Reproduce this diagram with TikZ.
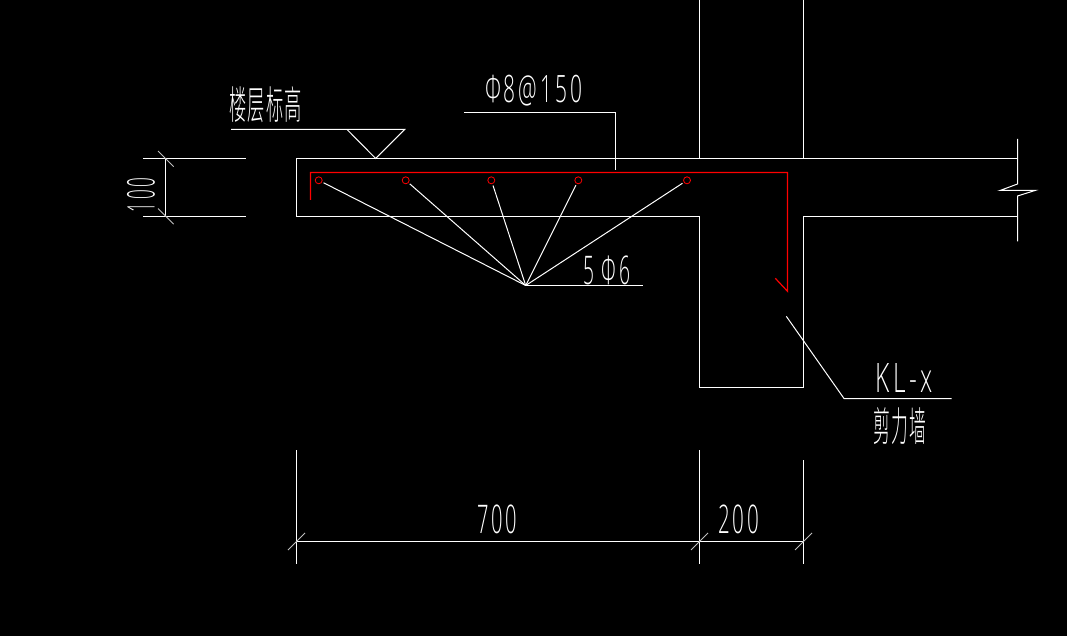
\documentclass[tikz,border=0pt]{standalone}
\usepackage{fontspec}
\setmainfont{Liberation Sans}
\newfontfamily\cadlat[LetterSpace=14]{Open Sans Light}
\newfontfamily\cadcjk[LetterSpace=8]{Noto Sans CJK SC Light}
\newcommand{\fitbox}[3]{\resizebox*{#1pt}{#2pt}{#3}}
\tikzset{
  outline/.style={draw=white,line width=1pt},
  thinline/.style={draw=white,line width=1pt},
  tick/.style={draw=white!75!black,line width=.8pt},
  rebar/.style={draw=red,line width=1.2pt},
  bar/.style={circle,draw=red,line width=.8pt,minimum size=7pt,inner sep=0pt},
  cad/.style={text=white,inner sep=0pt,font=\cadlat},
  cadc/.style={text=white,inner sep=0pt,font=\cadcjk},
}
\begin{document}
\begin{tikzpicture}[x=1pt,y=-1pt]
\fill[black] (0,0) rectangle (1067,636);
\useasboundingbox (0,0) rectangle (1067,636);
% concrete outline
\draw[outline] (699.5,0) -- (699.5,158.5);
\draw[outline] (803.5,0) -- (803.5,158.5);
\draw[outline] (1017.5,158.5) -- (296.5,158.5) -- (296.5,216.5) -- (699.5,216.5) -- (699.5,387.5) -- (803.5,387.5) -- (803.5,216.5) -- (1017.5,216.5);
% break line
\draw[outline] (1017.5,139) -- (1017.5,184) -- (1000,190.5) -- (1035,190.5) -- (1017.5,196) -- (1017.5,241.5);
% left dimension
\draw[outline] (143,158.5) -- (246,158.5);
\draw[outline] (143,216.5) -- (246,216.5);
\draw[outline] (165.5,158.5) -- (165.5,216.5);
\draw[tick] (158,151) -- (173.7,166.7);
\draw[tick] (158,208.5) -- (173.7,224.2);
\node[cad,rotate=90] (t100) at (141,195) {\fitbox{34}{28}{100}};
% elevation mark
\draw[outline] (231,129.5) -- (404.7,129.5) -- (375.7,158.5) -- (347,129.5);
\node[cadc] (tfloor) at (265.5,105) {\fitbox{73}{36}{楼层标高}};
% stirrup label
\node[cad] (tstir) at (533.5,90.5) {\fitbox{97}{31}{Φ8@150}};
\coordinate (stirA) at (464,112.5);
\coordinate (stirB) at (615.5,112.5);
\coordinate (stirC) at (615.5,170);
\draw[thinline] (stirA) -- (stirB) -- (stirC);
% rebar
\draw[rebar,line join=miter] (310.5,200) -- (310.5,172.5) -- (787.5,172.5) -- (787.5,291.3) -- (775.3,278.3);
\node[bar] (b1) at (318.7,180.3) {};
\node[bar] (b2) at (405.7,180.3) {};
\node[bar] (b3) at (491.3,180.3) {};
\node[bar] (b4) at (578.3,180.3) {};
\node[bar] (b5) at (687,180.3) {};
\coordinate (fan) at (525.7,285.5);
\coordinate (fanEnd) at (642.7,285.5);
\foreach \n in {b1,b2,b3,b4,b5}{\draw[thinline,shorten >=1.5pt] (fan) -- (\n);}
\draw[thinline] (fan) -- (fanEnd);
\node[cad] (tbars) at (606.5,270.5) {\fitbox{47}{29}{5 Φ6}};
% wall leader
\coordinate (wA) at (786.3,316.3);
\coordinate (wB) at (844,398.5);
\coordinate (wC) at (951.7,398.5);
\draw[thinline] (wA) -- (wB) -- (wC);
\node[cad] (tkl) at (904,377.5) {\fitbox{57}{29}{KL-x}};
\node[cadc] (twall) at (899.5,426.5) {\fitbox{53}{37}{剪力墙}};
% bottom dimension
\draw[outline] (296.5,450) -- (296.5,563.5);
\draw[outline] (699.5,450) -- (699.5,563.5);
\draw[outline] (803.5,460) -- (803.5,563.5);
\draw[outline] (296.5,541.5) -- (803.5,541.5);
\foreach \x in {296.5,699.5,803.5}{\draw[tick] (\x-8.5,550) -- (\x+8.5,533);}
\node[cad] (t700) at (497,519.5) {\fitbox{40}{29}{700}};
\node[cad] (t200) at (738.5,519.5) {\fitbox{41}{29}{200}};
\end{tikzpicture}
\end{document}
